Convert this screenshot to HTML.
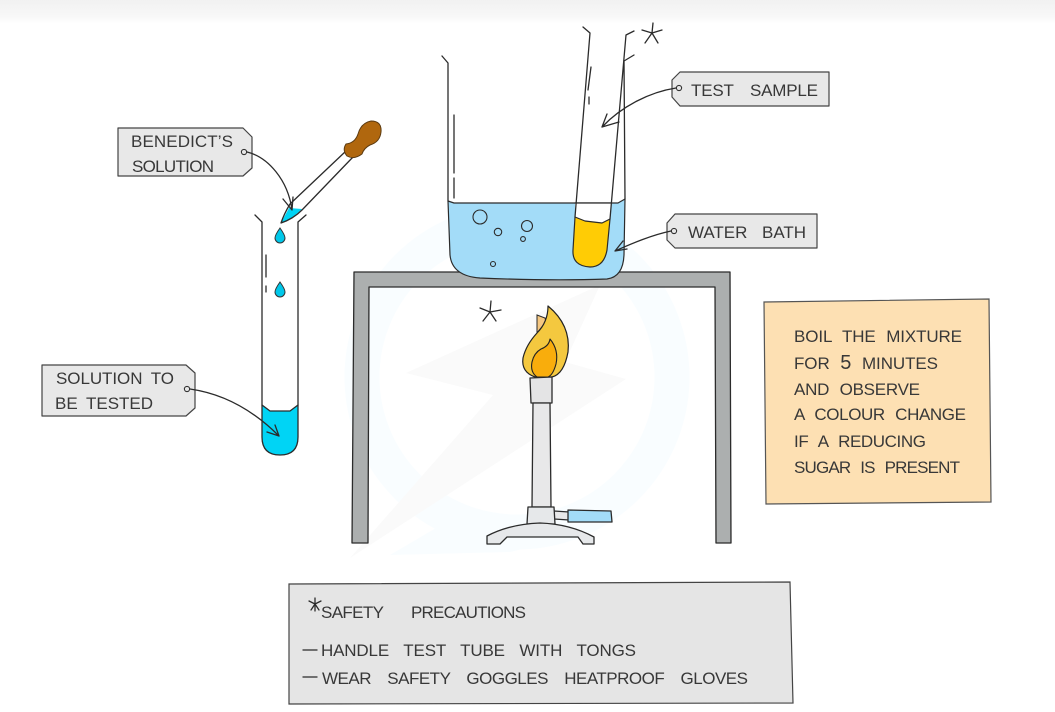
<!DOCTYPE html>
<html><head><meta charset="utf-8"><title>Benedict's test</title>
<style>
html,body{margin:0;padding:0;background:#fff;width:1055px;height:712px;overflow:hidden}
svg{display:block}
text{font-family:"Liberation Sans",sans-serif;font-size:17px;fill:#383838;word-spacing:4px}
.l{fill:none;stroke:#2b2b2b;stroke-width:1.3;stroke-linecap:round;stroke-linejoin:round}
.s{stroke:#2b2b2b;stroke-width:1.3;stroke-linejoin:round}
.tag{fill:#e8e8e8;stroke:#444;stroke-width:1.2;stroke-linejoin:round}
.dot{fill:#e8e8e8;stroke:#333;stroke-width:1.1}
</style></head><body>
<svg width="1055" height="712" viewBox="0 0 1055 712" xmlns="http://www.w3.org/2000/svg">
<defs><linearGradient id="top" x1="0" y1="0" x2="0" y2="1"><stop offset="0" stop-color="#f1f1f1"/><stop offset="0.7" stop-color="#f8f8f8"/><stop offset="1" stop-color="#fff"/></linearGradient></defs>
<rect width="1055" height="712" fill="#fff"/>
<rect width="1055" height="24" fill="url(#top)"/>

<!-- watermark -->
<circle cx="517" cy="377" r="155" fill="none" stroke="#f9fdff" stroke-width="35"/>
<polygon points="406,373 600,285 565,362 626,379 350,558 493,395" fill="#fafafa"/>
<polygon points="390,555 470,508 560,540 510,552" fill="#f9fdff"/>

<!-- left tube -->
<path d="M262,405 L270,411 L290,411 L298,405 L298,437 Q298,455 280,455 Q262,455 262,437 Z" fill="#00d4f5"/>
<path class="l" d="M255,215 L262,222 L262,437 Q262,455 280,455 Q298,455 298,437 L298,222 L306,215"/>
<path class="l" d="M262,405 L270,411 L290,411 L298,405"/>
<path class="l" d="M266,255 V277 M266,286 V292" stroke-width="1"/>
<path d="M280,228 Q285,235 285,238 A4.8,4.8 0 0 1 275,238 Q275,235 280,228 Z" fill="#00c8ea" stroke="#333" stroke-width="1"/>
<path d="M280,282 Q285,289 285,292 A4.8,4.8 0 0 1 275,292 Q275,289 280,282 Z" fill="#00c8ea" stroke="#333" stroke-width="1"/>

<!-- dropper -->
<path d="M281,223 L289,208 L302,209 Q292,219 281,223 Z" fill="#00d4f5"/>
<path class="l" d="M346,151 L290,204 Q284,214 281,223 Q293,219 302,210 L353,157"/>
<path d="M346,144 Q355,143 358,134 Q361,123 371,121 Q382,121 381,132 Q380,142 370,145 Q364,148 362,154 Q354,160 347,156 Q342,150 346,144 Z" fill="#b0670e" stroke="#5b3a10" stroke-width="1"/>

<!-- Benedict tag -->
<polygon class="tag" points="118,128 243,128 252,137 252,168 243,176 118,176"/>
<text x="131" y="147" textLength="102">BENEDICT’S</text>
<text x="132" y="172" textLength="82">SOLUTION</text>
<circle class="dot" cx="244" cy="152" r="2.6"/>
<path class="l" d="M247,152 C268,157 288,180 292,210 M283,199 L292,210 L293,197"/>

<!-- Solution tag -->
<polygon class="tag" points="42,365 186,365 195,373 195,408 186,416 42,416"/>
<text x="56" y="384" textLength="118">SOLUTION TO</text>
<text x="55" y="409" textLength="98">BE TESTED</text>
<circle class="dot" cx="187" cy="389" r="2.6"/>
<path class="l" d="M190,389 C225,394 255,412 279,436 M267,432 L279,436 L275,425"/>

<!-- tripod -->
<path class="s" fill="#acafaf" d="M354,272 L730,272 L731,543 L716,543 L715,287 L369,287 L368,543 L352,543 Z"/>

<!-- beaker -->
<path d="M448,201 L454,203 L618,203 L625,199 L624,255 Q623,277 607,279 Q550,281 480,278 Q452,276 450,255 Z" fill="#a3dcf8" stroke="#2b2b2b" stroke-width="1.2" stroke-linejoin="round"/>
<path class="l" d="M442,56 L448,63 L448,201 M634,55 L624,61 M624,61 L625,199"/>
<path class="l" d="M454,115 V173 M454,178 V198" stroke-width="1"/>
<circle cx="480" cy="217" r="7" fill="none" stroke="#2b2b2b" stroke-width="1.1"/>
<circle cx="498" cy="232" r="3.7" fill="none" stroke="#2b2b2b" stroke-width="1.1"/>
<circle cx="527" cy="226" r="5.5" fill="none" stroke="#2b2b2b" stroke-width="1.1"/>
<circle cx="523" cy="239" r="2.4" fill="none" stroke="#2b2b2b" stroke-width="1.1"/>
<circle cx="493" cy="264" r="2.5" fill="none" stroke="#2b2b2b" stroke-width="1.1"/>

<!-- test tube -->
<path d="M575,203 L611,203 L610,219 L602,223 L585,221 L575,217 Z" fill="#fff"/>
<path d="M575,217 L585,221 L602,223 L610,219 L607,250 Q604,267 590,267 Q572,266 573,250 Z" fill="#ffcc05" stroke="#2b2b2b" stroke-width="1.2" stroke-linejoin="round"/>
<path class="l" d="M583,27 L590,33 L575,217 M634,31 L626,35 L610,219"/>
<path class="l" d="M591,67 L588,90 M589,97 V104" stroke-width="1"/>
<path class="l" d="M575,203 H611" stroke-width="1"/>

<!-- stars -->
<path class="l" d="M653,23 L652,33 L642,30 M652,33 L645,43 M652,33 L658,43 M652,33 L662,30" stroke-width="1.4"/>
<path class="l" d="M491,301 L490,312 L480,308 M490,312 L483,321 M490,312 L496,321 M490,312 L501,310" stroke-width="1.4"/>

<!-- Test sample tag -->
<polygon class="tag" points="672,80 680,72 829,72 829,106 680,106 672,97"/>
<text x="691" y="96" textLength="127" style="word-spacing:12px">TEST SAMPLE</text>
<circle class="dot" cx="679" cy="88" r="2.6"/>
<path class="l" d="M676,88 C650,92 622,106 602,127 M607,114 L602,127 L619,122"/>

<!-- Water bath tag -->
<polygon class="tag" points="667,223 675,214 817,214 817,248 675,248 667,240"/>
<text x="688" y="238" textLength="118" style="word-spacing:10px">WATER BATH</text>
<circle class="dot" cx="674" cy="231" r="2.6"/>
<path class="l" d="M671,231 C652,235 633,243 615,251 M623,241 L615,251 L627,249"/>

<!-- burner -->
<path d="M537,315 L545,318 L546,322 L537,333 Z" fill="#f5c781" stroke="#2b2b2b" stroke-width="1"/>
<path d="M548,306 Q571,325 568,352 Q564,374 552,377 L535,377 Q521,372 523,358 Q526,345 537,333 Q548,322 548,306 Z" fill="#f4c83f" stroke="#222" stroke-width="1.2" stroke-linejoin="round"/>
<path d="M550,339 Q559,350 556,364 Q553,375 548,377 L537,377 Q530,372 532,362 Q534,353 541,349 Q549,346 550,339 Z" fill="#f9ad0c" stroke="#222" stroke-width="1.1" stroke-linejoin="round"/>
<path class="s" fill="#e4e4e5" d="M530,378 L552,377 L552,403 L531,403 Z"/>
<path class="s" fill="#e8e8e9" d="M533,403 L550,403 L551,507 L532,507 Z"/>
<path class="s" fill="#e8e8e9" d="M554,511 L569,512 L569,520 L554,519 Z"/>
<path class="s" fill="#a3dcf8" d="M568,510 L611,511 L612,522 L568,522 Z"/>
<path class="s" fill="#e6e8ea" d="M528,507 L554,507 L555,524 L527,524 Z"/>
<path class="s" fill="#e6e8ea" d="M487,536 Q510,524 540,523 Q570,524 594,537 L594,544 L583,544 L578,537 L507,537 L500,544 L487,544 Z"/>

<!-- note -->
<path d="M764,302 L989,299 L991,502 L766,504 Z" fill="#fde0b3" stroke="#555" stroke-width="1.2"/>
<text x="794" y="342" textLength="168" style="word-spacing:6px">BOIL THE MIXTURE</text>
<text x="794" y="369" textLength="144" style="word-spacing:6px">FOR <tspan font-size="20">5</tspan> MINUTES</text>
<text x="794" y="395" textLength="126" style="word-spacing:6px">AND OBSERVE</text>
<text x="794" y="420" textLength="172" style="word-spacing:6px">A COLOUR CHANGE</text>
<text x="794" y="447" textLength="132" style="word-spacing:6px">IF A REDUCING</text>
<text x="794" y="473" textLength="166" style="word-spacing:6px">SUGAR IS PRESENT</text>

<!-- safety -->
<path d="M289,584 L790,582 L793,703 L289,704 Z" fill="#e5e5e5" stroke="#444" stroke-width="1.2"/>
<path class="l" d="M315,598 V611 M309,601 L315,604 L321,601 M311,610 L315,604 L319,610" stroke-width="1.2"/>
<text x="321" y="618" textLength="63">SAFETY</text>
<text x="411" y="618" textLength="115">PRECAUTIONS</text>
<path class="l" d="M303,650 H317 M303,677 H317" stroke-width="1.2"/>
<text x="321" y="656" textLength="315" style="word-spacing:10px">HANDLE TEST TUBE WITH TONGS</text>
<text x="322" y="684" textLength="426" style="word-spacing:12px">WEAR SAFETY GOGGLES HEATPROOF GLOVES</text>
</svg>
</body></html>
